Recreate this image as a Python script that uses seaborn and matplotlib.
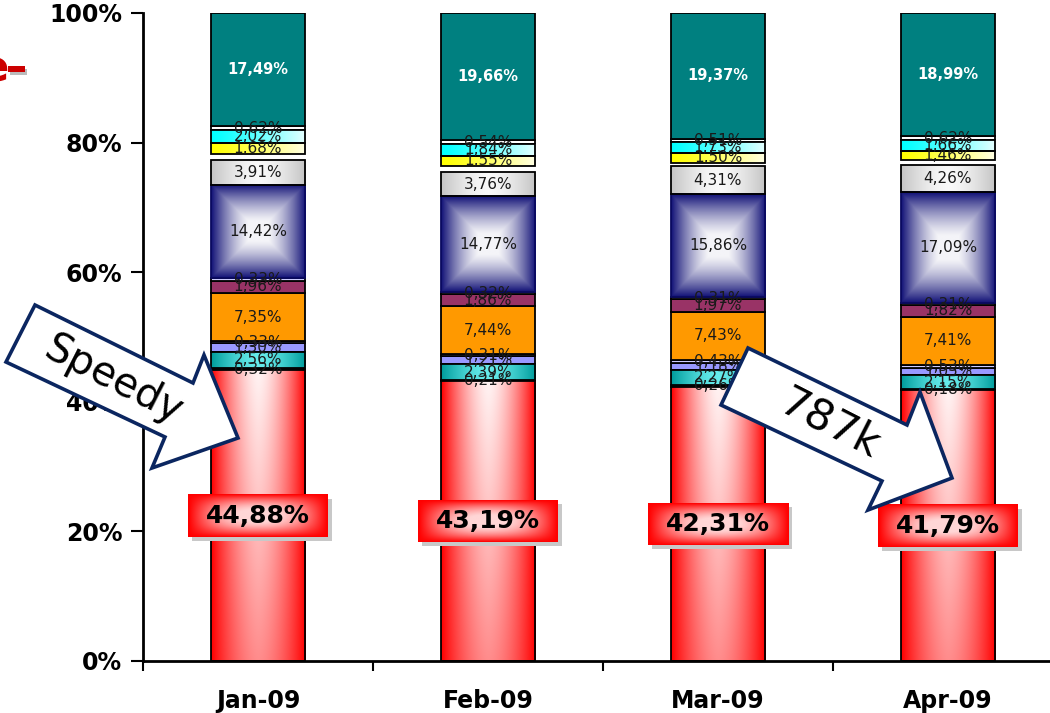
import numpy as np
import pandas as pd
import matplotlib
matplotlib.use("Agg")
import matplotlib.pyplot as plt
import seaborn as sns
from matplotlib.patches import Polygon, Rectangle
from matplotlib.transforms import IdentityTransform
from matplotlib.ticker import FixedLocator

# ---------------- data (percent shares, bottom -> top) ----------------
months = ["Jan-09", "Feb-09", "Mar-09", "Apr-09"]
seg_red = [44.88, 43.19, 42.31, 41.79]
seg_base = [0.32, 0.21, 0.26, 0.18]
seg_teal_light = [2.56, 2.39, 2.27, 2.15]
seg_violet = [1.30, 1.21, 1.18, 1.05]
seg_lilac1 = [0.33, 0.31, 0.43, 0.53]
seg_orange = [7.35, 7.44, 7.43, 7.41]
seg_maroon = [1.96, 1.86, 1.97, 1.82]
seg_lilac2 = [0.33, 0.32, 0.31, 0.31]
seg_blue = [14.42, 14.77, 15.86, 17.09]
seg_gray = [3.91, 3.76, 4.31, 4.26]
seg_gap = [0.83, 0.95, 0.56, 0.68]
seg_yellow = [1.68, 1.55, 1.50, 1.46]
seg_cyan = [2.02, 1.84, 1.73, 1.66]
seg_small = [0.62, 0.54, 0.51, 0.62]
seg_teal = [17.49, 19.66, 19.37, 18.99]
y_ticks = [0, 20, 40, 60, 80, 100]
y_tick_labels = ["0%", "20%", "40%", "60%", "80%", "100%"]

segments = [
    ("red", seg_red, "#ff0000", "grad_red", "big"),
    ("base", seg_base, "#ffffff", None, "small"),
    ("teal_light", seg_teal_light, "#00c8c8", "grad_teal", "small"),
    ("violet", seg_violet, "#9999ff", None, "small"),
    ("lilac1", seg_lilac1, "#ccccff", None, "small"),
    ("orange", seg_orange, "#ff9900", None, "small"),
    ("maroon", seg_maroon, "#993366", None, "small"),
    ("lilac2", seg_lilac2, "#ccccff", None, "small"),
    ("blue", seg_blue, "#8888bb", "grad_blue", "small"),
    ("gray", seg_gray, "#d9d9d9", "grad_gray", "small"),
    ("gap", seg_gap, "#ffffff", None, None),
    ("yellow", seg_yellow, "#ffff33", "grad_yellow", "small"),
    ("cyan", seg_cyan, "#33ffff", "grad_cyan", "small"),
    ("small", seg_small, "#ffffff", None, "small"),
    ("teal", seg_teal, "#008080", None, "white"),
]

W, H = 1050, 713
fig = plt.figure(figsize=(W / 100, H / 100), dpi=100)
sns.set_style("white")
plt.rcParams["font.family"] = ["DejaVu Sans"]
ax = fig.add_axes([143 / W, (H - 661) / H, 920 / W, 648 / H])

def mix(c1, c2, w):
    c1 = np.array(matplotlib.colors.to_rgb(c1))
    c2 = np.array(matplotlib.colors.to_rgb(c2))
    w = np.clip(w, 0, 1)[..., None]
    return c1 * (1 - w) + c2 * w

n = 80
u = np.linspace(0, 1, n)[None, :] * np.ones((n, 1))
v = np.linspace(0, 1, n)[:, None] * np.ones((1, n))
cu = np.abs(2 * u - 1)
cv = np.abs(2 * v - 1)
grads = {
    "grad_red": mix("#ff0000", "#ffffff", (1 - cu ** 1.6) * (0.55 + 0.4 * v)),
    "grad_teal": mix("#009c9c", "#7fffff", (1 - cu ** 1.5) * 0.8),
    "grad_blue": mix("#141478", "#f4f4f8", (1 - np.maximum(cu, cv) ** 1.6) * 1.1),
    "grad_gray": mix("#c4c4c4", "#ffffff", (1 - cu ** 1.5) * 0.9),
    "grad_yellow": mix("#ffff00", "#ffffff", (u ** 1.2) * 0.9),
    "grad_cyan": mix("#00ffff", "#ffffff", (u ** 1.2) * 0.9),
}

bottom = np.zeros(len(months))
seg_info = []
for name, vals, color, grad, lab in segments:
    df = pd.DataFrame({"month": months, "val": vals})
    sns.barplot(data=df, x="month", y="val", order=months, color=color,
                saturation=1, errorbar=None, width=0.41, bottom=bottom.copy(),
                edgecolor="black", linewidth=1.3, ax=ax)
    cont = ax.containers[-1]
    if name == "gap":
        for p in cont.patches:
            p.set_edgecolor("none")
    if grad is not None:
        for p in cont.patches:
            x0, y0, w, h = p.get_x(), p.get_y(), p.get_width(), p.get_height()
            im = ax.imshow(grads[grad], extent=(x0, x0 + w, y0, y0 + h), origin="lower",
                           aspect="auto", interpolation="bilinear", zorder=1.5)
            im.set_clip_path(p)
            p.set_facecolor("none")
            p.set_zorder(2)
            if name == "blue":
                p.set_edgecolor("#0a0a60")
    seg_info.append((name, vals, bottom.copy(), lab))
    bottom = bottom + np.array(vals)

ax.set_xlim(-0.5, 3.5)
ax.set_ylim(0, 100)
ax.set_xlabel("")
ax.set_ylabel("")

def fmt(v):
    return f"{v:.2f}".replace(".", ",") + "%"

big_texts = []
for name, vals, bots, lab in seg_info:
    if lab is None:
        continue
    for i, v in enumerate(vals):
        yc = bots[i] + v / 2
        if lab == "big":
            t = ax.text(i, yc, fmt(v), ha="center", va="center", fontsize=18,
                        fontweight="bold", color="black", zorder=6)
            big_texts.append(t)
        elif lab == "white":
            ax.text(i, yc, fmt(v), ha="center", va="center", fontsize=10.5,
                    fontweight="bold", color="white", zorder=6)
        else:
            ax.text(i, yc, fmt(v), ha="center", va="center", fontsize=11,
                    color="#1a1a1a", zorder=6)

# axes styling
for s in ["top", "right"]:
    ax.spines[s].set_visible(False)
ax.spines["left"].set_linewidth(2)
ax.spines["bottom"].set_linewidth(2)
ax.spines["left"].set_color("black")
ax.spines["bottom"].set_color("black")
ax.set_yticks(y_ticks)
ax.set_yticklabels(y_tick_labels, fontsize=17, fontweight="bold", color="black")
ax.tick_params(axis="y", length=9, width=1.5, direction="out", pad=6, left=True,
               color="black", labelcolor="black")
ax.set_xticks(range(len(months)))
ax.set_xticklabels(months, fontsize=17, fontweight="bold", color="black")
ax.tick_params(axis="x", which="major", length=0, pad=20, labelcolor="black")
ax.xaxis.set_minor_locator(FixedLocator([-0.5, 0.5, 1.5, 2.5]))
ax.tick_params(axis="x", which="minor", length=7, width=1.5, direction="out",
               bottom=True, color="black")
ax.grid(False)

# red gradient boxes behind the big labels
fig.canvas.draw()
inv = ax.transData.inverted()
box_grad = mix("#ff0000", "#ffd6d6", (1 - cu ** 2) * (1 - cv ** 2) * 1.1)
for t in big_texts:
    bb = t.get_window_extent()
    x0d, y0d, x1d, y1d = bb.x0 - 18, bb.y0 - 9, bb.x1 + 18, bb.y1 + 9
    (sx0, sy0), (sx1, sy1) = inv.transform([[x0d + 4, y0d - 4], [x1d + 4, y1d - 4]])
    ax.add_patch(Rectangle((sx0, sy0), sx1 - sx0, sy1 - sy0, facecolor="#c8c8c8",
                           edgecolor="none", zorder=4.2))
    (bx0, by0), (bx1, by1) = inv.transform([[x0d, y0d], [x1d, y1d]])
    ax.imshow(box_grad, extent=(bx0, bx1, by0, by1), origin="lower", aspect="auto",
              interpolation="bilinear", zorder=4.5)
ax.set_xlim(-0.5, 3.5)
ax.set_ylim(0, 100)

# callout arrows (figure pixel coordinates, image y measured from top)
def to_disp(pts):
    return [(x, H - y) for x, y in pts]

speedy_pts = [(35, 305), (193, 383), (204, 355), (238, 438), (152, 468), (165, 437), (6, 362)]
k_pts = [(748, 348), (907, 425), (920, 392), (952, 478), (868, 510), (882, 481), (721, 405)]
for pts in (speedy_pts, k_pts):
    fig.patches.append(Polygon(to_disp(pts), closed=True, facecolor="white",
                               edgecolor="#0b2660", linewidth=2.6,
                               transform=IdentityTransform(), figure=fig, zorder=20))
fig.text(113 / W, 1 - 380 / H, "Speedy", rotation=-27, rotation_mode="anchor",
         ha="center", va="center", fontsize=29, color="black", zorder=21)
fig.text(830 / W, 1 - 424 / H, "787k", rotation=-27, rotation_mode="anchor",
         ha="center", va="center", fontsize=31, color="black", zorder=21)

# cut-off red logo fragment at top left (cropped in the original as well)
fig.text(8 / W, 1 - 70 / H, "e", ha="right", va="center", fontsize=30,
         fontweight="bold", color="#cc0000", zorder=21)
fig.patches.append(Rectangle((10, H - 75), 17, 6, facecolor="#bbbbbb", edgecolor="none",
                             transform=IdentityTransform(), figure=fig, zorder=20))
fig.patches.append(Rectangle((8, H - 72), 17, 6, facecolor="#cc0000", edgecolor="none",
                             transform=IdentityTransform(), figure=fig, zorder=21))

fig.savefig("out.png", dpi=100)
